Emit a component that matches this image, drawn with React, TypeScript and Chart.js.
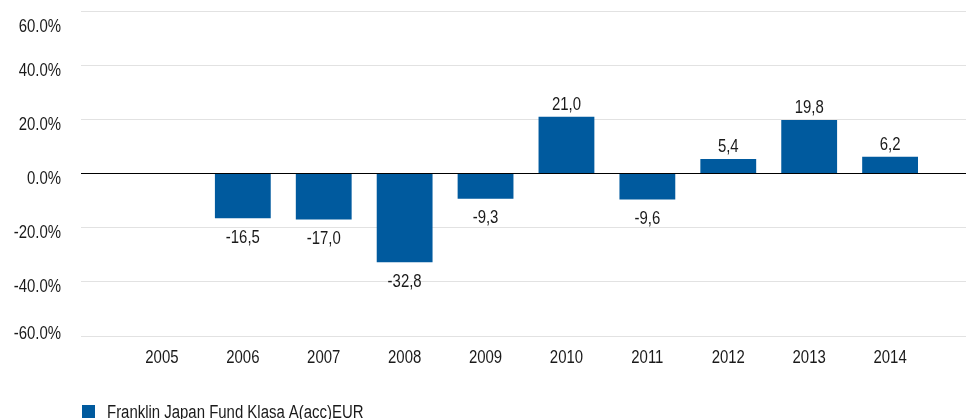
import React, { useEffect, useRef } from 'react';
import { Chart, registerables } from 'chart.js';

Chart.register(...registerables);

const years: string[] = ['2005', '2006', '2007', '2008', '2009', '2010', '2011', '2012', '2013', '2014'];
const returns: (number | null)[] = [null, -16.5, -17.0, -32.8, -9.3, 21.0, -9.6, 5.4, 19.8, 6.2];
const yTicks: number[] = [60, 40, 20, 0, -20, -40, -60];
const seriesName = 'Franklin Japan Fund Klasa A(acc)EUR';
const barColor = '#005a9e';

const FONT = '18px "Liberation Sans", Arial, sans-serif';
const SX = 0.83;
const TEXT_COLOR = '#1a1a1a';

function drawText(ctx: CanvasRenderingContext2D, text: string, x: number, baseline: number, align: CanvasTextAlign) {
  ctx.save();
  ctx.font = FONT;
  ctx.fillStyle = TEXT_COLOR;
  ctx.textBaseline = 'alphabetic';
  ctx.textAlign = align;
  ctx.translate(x, baseline);
  ctx.scale(SX, 1);
  ctx.fillText(text, 0, 0);
  ctx.restore();
}

const fmtVal = (v: number) => v.toFixed(1).replace('.', ',');
const fmtTick = (v: number) => v.toFixed(1) + '%';

const textPlugin = {
  id: 'customText',
  afterDraw(chart: any) {
    const ctx: CanvasRenderingContext2D = chart.ctx;
    const { top, bottom } = chart.chartArea;
    const ys = chart.scales.y;
    const xs = chart.scales.x;
    // y tick labels
    yTicks.forEach((v) => {
      const p = ys.getPixelForValue(v);
      const c = Math.min(Math.max(p + 4, top + 14), bottom - 4);
      drawText(ctx, fmtTick(v), 61, c + 6.5, 'right');
    });
    // x labels
    years.forEach((yr, i) => {
      const px = xs.getPixelForValue(i + 1);
      drawText(ctx, yr, px, bottom + 27, 'center');
    });
    // data labels
    const meta = chart.getDatasetMeta(0);
    const data = chart.data.datasets[0].data as (number | null)[];
    meta.data.forEach((bar: any, i: number) => {
      const v = data[i];
      if (v === null || v === undefined) return;
      const b = v >= 0 ? bar.y - 13.5 + 6.5 : bar.y + 18 + 6.5;
      drawText(ctx, fmtVal(v), bar.x, b, 'center');
    });
    // legend
    ctx.save();
    ctx.fillStyle = barColor;
    ctx.fillRect(82, 405, 13, 13);
    ctx.restore();
    drawText(ctx, seriesName, 107, 418, 'left');
  },
};

export default function App() {
  const ref = useRef<HTMLCanvasElement | null>(null);
  useEffect(() => {
    if (!ref.current) return;
    const labels = ['', ...years, ''];
    const data = [null, ...returns, null];
    const chart = new Chart(ref.current, {
      type: 'bar',
      data: {
        labels,
        datasets: [
          {
            label: seriesName,
            data,
            backgroundColor: barColor,
            borderWidth: 0,
            barPercentage: 0.69,
            categoryPercentage: 1,
          },
        ],
      },
      options: {
        responsive: false,
        animation: false,
        devicePixelRatio: 1,
        layout: { padding: { top: 11, left: 0, right: 0, bottom: 0 } },
        plugins: { legend: { display: false }, tooltip: { enabled: false } },
        scales: {
          x: {
            type: 'category',
            offset: false,
            grid: { display: false },
            border: { display: false },
            ticks: { display: false, autoSkip: false },
            afterFit: (s: any) => {
              s.height = 83;
            },
          },
          y: {
            min: -60,
            max: 60,
            ticks: { stepSize: 20, display: false },
            grid: {
              color: (c: any) => (c.tick && c.tick.value === 0 ? '#000000' : '#e2e2e2'),
              drawTicks: false,
              lineWidth: 1,
            },
            border: { display: false },
            afterFit: (s: any) => {
              s.width = 81;
            },
          },
        },
      },
      plugins: [textPlugin],
    } as any);
    return () => chart.destroy();
  }, []);
  return (
    <div style={{ position: 'absolute', left: 0, top: 0, width: 966, height: 419, overflow: 'hidden', background: '#fff' }}>
      <canvas ref={ref} width={971} height={419} style={{ display: 'block', width: 971, height: 419 }} />
    </div>
  );
}
